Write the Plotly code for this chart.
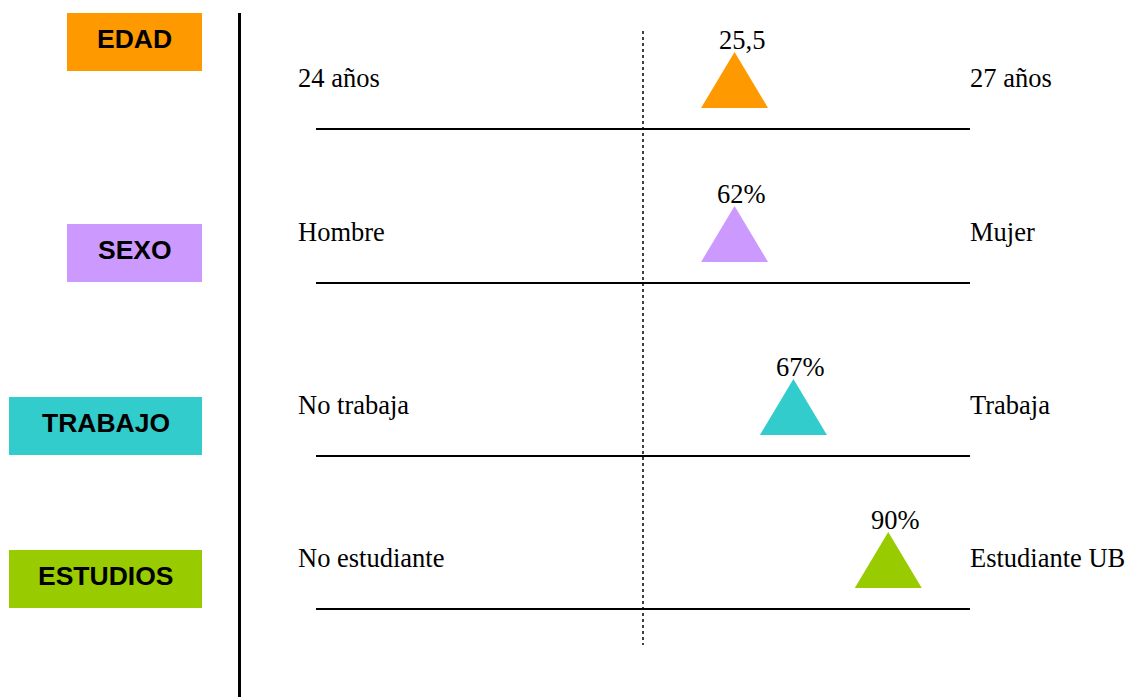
import plotly.graph_objects as go

# ---------------- DATA ----------------
categorias = ["EDAD", "SEXO", "TRABAJO", "ESTUDIOS"]
extremo_izq = ["24 años", "Hombre", "No trabaja", "No estudiante"]
extremo_der = ["27 años", "Mujer", "Trabaja", "Estudiante UB"]
valores = ["25,5", "62%", "67%", "90%"]
# marker position along each 0-100 scale
posicion = [64, 64, 73, 87.5]
punto_medio = 50

# ---------------- STYLE / LAYOUT ----------------
colores = ["#FF9900", "#CC99FF", "#33CCCC", "#99CC00"]
W, H = 1131, 697
SERIF = "Liberation Serif, Times New Roman, serif"
SANS = "Liberation Sans, Arial, sans-serif"


def px_x(x):
    return x / W


def px_y(y):
    return 1 - y / H


linea_y = [128, 282, 455, 608]      # pixel row of each scale line
banda = 100                          # height (px) of each row band
escala_x0, escala_x1 = 316, 970      # pixel extent of the scales
caja_x0 = [67, 67, 9, 9]
caja_x1 = 202
caja_y = [(13, 71), (224, 282), (397, 455), (550, 608)]

media_ancho = 33.5 / (escala_x1 - escala_x0) * 100   # triangle half-width in scale units
tri_base, tri_cima = 20, 76
etiqueta_y = 88
texto_y = 50

fig = go.Figure()
layout_axes = {}
annotations = []
shapes = []

for i, cat in enumerate(categorias):
    n = "" if i == 0 else str(i + 1)
    xa, ya = "x" + n, "y" + n
    p = posicion[i]
    fig.add_trace(go.Scatter(
        x=[p - media_ancho, p + media_ancho, p, p - media_ancho],
        y=[tri_base, tri_base, tri_cima, tri_base],
        mode="lines", fill="toself", fillcolor=colores[i],
        line=dict(width=0, color=colores[i]),
        xaxis=xa, yaxis=ya, hoverinfo="skip", showlegend=False,
        cliponaxis=False,
    ))
    layout_axes["xaxis" + n] = dict(
        domain=[px_x(escala_x0), px_x(escala_x1)], range=[0, 100],
        showgrid=False, zeroline=False, showticklabels=False, ticks="",
        showline=True, linecolor="black", linewidth=2,
        anchor=ya, fixedrange=True,
    )
    layout_axes["yaxis" + n] = dict(
        domain=[px_y(linea_y[i]), px_y(linea_y[i] - banda)], range=[0, banda],
        showgrid=False, zeroline=False, showticklabels=False, ticks="",
        showline=False, anchor=xa, fixedrange=True,
    )
    # value label above triangle
    annotations.append(dict(
        xref=xa, yref=ya, x=p, y=etiqueta_y, xshift=7, text=valores[i],
        showarrow=False, xanchor="center", yanchor="middle",
        font=dict(family=SERIF, size=26.5, color="black"),
    ))
    # scale extremes
    annotations.append(dict(
        xref="paper", yref=ya, x=px_x(295.5), y=texto_y, text=extremo_izq[i],
        showarrow=False, xanchor="left", yanchor="middle",
        font=dict(family=SERIF, size=26.5, color="black"),
    ))
    annotations.append(dict(
        xref="paper", yref=ya, x=px_x(967.5), y=texto_y, text=extremo_der[i],
        showarrow=False, xanchor="left", yanchor="middle",
        font=dict(family=SERIF, size=26.5, color="black"),
    ))
    # category box
    y0, y1 = caja_y[i]
    shapes.append(dict(
        type="rect", xref="paper", yref="paper",
        x0=px_x(caja_x0[i]), x1=px_x(caja_x1), y0=px_y(y1), y1=px_y(y0),
        fillcolor=colores[i], line=dict(width=0), layer="below",
    ))
    annotations.append(dict(
        xref="paper", yref="paper",
        x=px_x((caja_x0[i] + caja_x1) / 2), y=px_y((y0 + y1) / 2 - 3),
        text="<b>%s</b>" % cat, showarrow=False,
        xanchor="center", yanchor="middle",
        font=dict(family=SANS, size=26.5, color="black"),
    ))

# mid-point dotted line
shapes.append(dict(
    type="line", xref="x", yref="paper", x0=punto_medio, x1=punto_medio,
    y0=px_y(31), y1=px_y(645), line=dict(color="black", width=1.5, dash="dot"),
))
# solid separator line
shapes.append(dict(
    type="line", xref="paper", yref="paper", x0=px_x(239.5), x1=px_x(239.5),
    y0=px_y(13), y1=px_y(697), line=dict(color="black", width=3),
))

fig.update_layout(
    width=W, height=H, margin=dict(l=0, r=0, t=0, b=0),
    paper_bgcolor="white", plot_bgcolor="white",
    showlegend=False, annotations=annotations, shapes=shapes,
    **layout_axes,
)

fig.write_html(
    "out.html",
    config={"displayModeBar": False},
    post_script="document.body.style.margin='0';document.body.style.overflow='hidden';",
)
